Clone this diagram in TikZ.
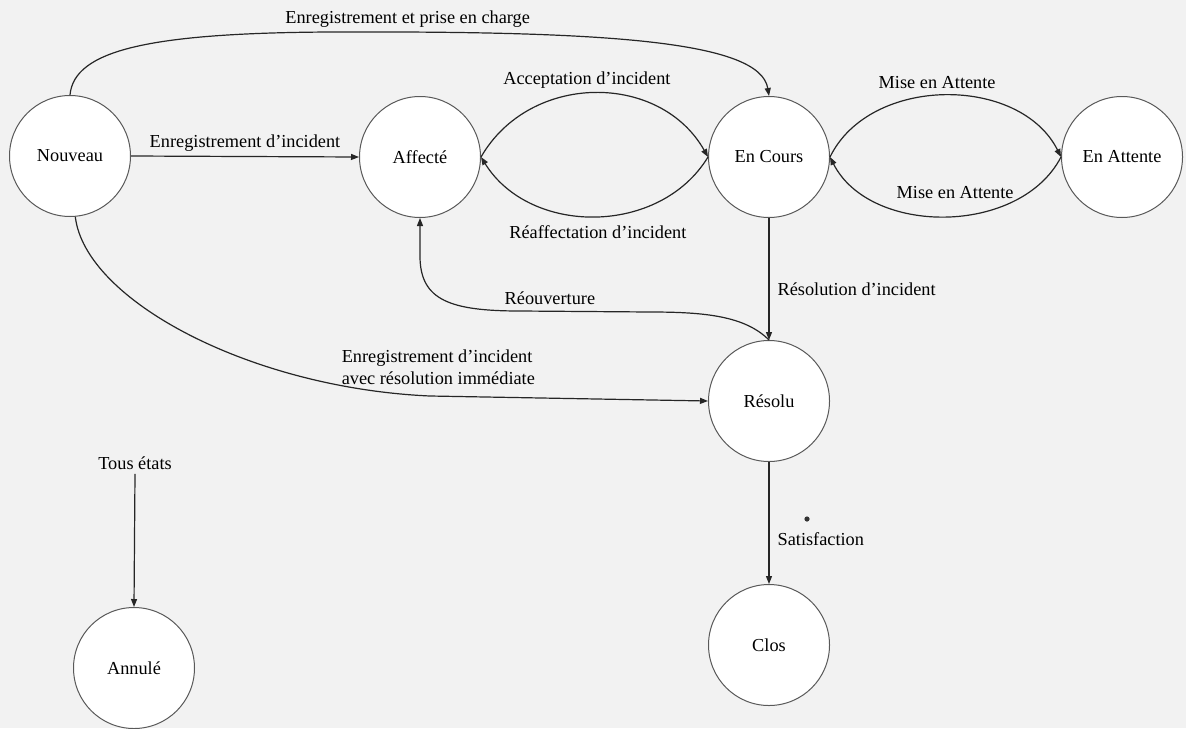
\documentclass[tikz,border=0pt]{standalone}
\usepackage{fontspec}
\setmainfont{Liberation Serif}
\usetikzlibrary{arrows.meta}
\newcommand\diagfont{\fontsize{9.15pt}{11pt}\selectfont}
\begin{document}
\begin{tikzpicture}[x=0.5pt,y=-0.5pt,
  state/.style={circle, draw=black!65, line width=0.5pt, fill=white,
    minimum size=60.5pt, inner sep=0pt, font=\diagfont},
  trans/.style={draw=black!85, line width=0.6pt,
    -{Triangle[length=4pt,width=3pt]}},
  lbl/.style={font=\diagfont, inner sep=2pt}]
% page
\fill[black!5] (0,0) rectangle (1186,728);
\useasboundingbox (0,0) rectangle (1186,728);

% states
\node[state] (nv) at (70,156) {Nouveau};
\node[state] (af) at (420,157) {Affecté};
\node[state] (ec) at (769,157) {En Cours};
\node[state] (ea) at (1122,157) {En Attente};
\node[state] (re) at (769,401) {Résolu};
\node[state] (cl) at (769,645) {Clos};
\node[state] (an) at (134,668) {Annulé};
\node[lbl] (tous) at (135,463) {Tous états};

% transitions
\draw[trans] (nv.north) .. controls (74,50) and (150,33) .. (330,32)
  .. controls (600,31) and (760,40) .. (ec.north)
  node[lbl, above, pos=0.1] (l1) {Enregistrement et prise en charge};

\draw[trans] (nv.east) -- (af.west)
  node[lbl, above, pos=0.5] (l2) {Enregistrement d'incident};

\draw[trans] (af.east) .. controls (530,72) and (660,72) .. (ec.west)
  node[lbl, above=0pt, pos=0.5, xshift=-4pt] (l3) {Acceptation d'incident};

\draw[trans] (ec.west) .. controls (660,236) and (530,236) .. (af.east)
  node[lbl, below=2.5pt, pos=0.5, xshift=1.5pt] (l4) {Réaffectation d'incident};

\draw[trans] (ec.east) .. controls (870,75) and (1020,75) .. (ea.west)
  node[lbl, above=1pt, pos=0.5, xshift=-4pt] (l5) {Mise en Attente};

\draw[trans] (ea.west) .. controls (1020,236) and (870,236) .. (ec.east)
  node[lbl, above=6.5pt, pos=0.5, xshift=5pt] (l6) {Mise en Attente};

\draw[trans] (ec.south) -- (re.north)
  node[lbl, right, pos=0.585, xshift=2pt] (l7) {Résolution d'incident};

\draw[trans] (re.north) .. controls (745,316) and (705,312) .. (650,312)
  -- (520,311) node[lbl, above=1pt, pos=0.77] (l8) {Réouverture}
  .. controls (450,311) and (421,300) .. (420,258) -- (af.south);

\draw[trans] (nv.275) .. controls (85,300) and (250,388) .. (430,396)
  -- (re.west)
  node[lbl, above=3.5pt, pos=0.03, align=left] (l9)
    {Enregistrement d'incident\\avec résolution immédiate};

\draw[trans] (tous.south) -- (an.north);

\draw[trans] (re.south) -- (cl.north)
  node[lbl, right, pos=0.63, xshift=2pt] (l10) {Satisfaction};

% stray ink dot
\fill[black!80] (807,519) circle (1.3pt);
\end{tikzpicture}
\end{document}
